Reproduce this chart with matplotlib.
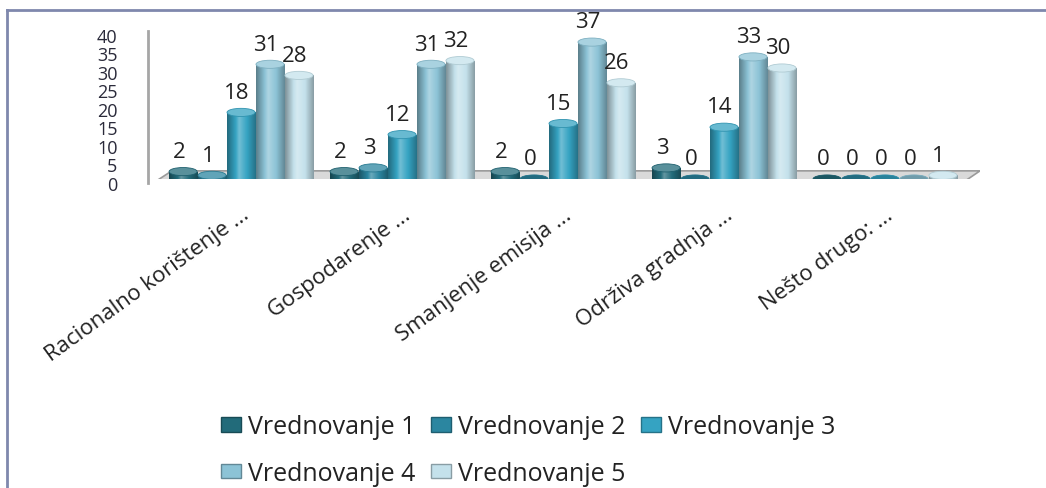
import numpy as np
import matplotlib
matplotlib.use('Agg')
import matplotlib.pyplot as plt
import matplotlib.transforms as mtransforms
from matplotlib.colors import LinearSegmentedColormap, to_rgb
from matplotlib.patches import Ellipse, Polygon, Patch
from matplotlib.lines import Line2D

plt.rcParams['font.family'] = ['Open Sans', 'DejaVu Sans']

# survey data
categories = ['Racionalno korištenje ...', 'Gospodarenje ...', 'Smanjenje emisija ...',
              'Održiva gradnja ...', 'Nešto drugo: ...']
series = ['Vrednovanje 1', 'Vrednovanje 2', 'Vrednovanje 3', 'Vrednovanje 4', 'Vrednovanje 5']
v1 = [2, 2, 2, 3, 0]
v2 = [1, 3, 0, 0, 0]
v3 = [18, 12, 15, 14, 0]
v4 = [31, 31, 37, 33, 0]
v5 = [28, 32, 26, 30, 1]
values = [v1, v2, v3, v4, v5]
colors = ['#226b7a', '#2b86a0', '#35a3c2', '#8cc3d6', '#c4e1eb']
yticks = [0, 5, 10, 15, 20, 25, 30, 35, 40]


def shade(c, f):
    r = np.array(to_rgb(c))
    if f < 0:
        return tuple(r * (1 + f))
    return tuple(r + (1 - r) * f)


fig = plt.figure(figsize=(10.46, 4.89), dpi=100)
ax = fig.add_axes([148 / 1046, 1 - 180 / 489, (980 - 148) / 1046, 148 / 489])

x = np.arange(len(categories))
w = 0.18
cap = 2.2  # ellipse height in data units

# floor of the 3d plot
floor = Polygon([(-0.555, -1.35), (4.47, -1.35), (4.59, 2.2), (-0.43, 2.2)],
                closed=True, facecolor='#d9d9d9', edgecolor='#9a9a9a', lw=1.2, zorder=1)
ax.add_patch(floor)
front = Polygon([(-0.555, -1.35), (4.47, -1.35), (4.45, -2.3), (-0.575, -2.3)],
                closed=True, facecolor='#f2f2f2', edgecolor='#a8a8a8', lw=0.8, zorder=1)
ax.add_patch(front)

for i, (vals, col) in enumerate(zip(values, colors)):
    pos = x + (i - 2) * w
    bars = ax.bar(pos, vals, width=w * 0.97, color=col, zorder=3)
    cmap = LinearSegmentedColormap.from_list(
        'cyl', [(0, shade(col, -0.35)), (0.3, col), (0.42, shade(col, 0.3)),
                (0.7, col), (1, shade(col, -0.3))])
    grad = np.linspace(0, 1, 64).reshape(1, -1)
    for b, v in zip(bars, vals):
        bx = b.get_x()
        bw = b.get_width()
        cx = bx + bw / 2
        # rounded bottom
        ax.add_patch(Ellipse((cx, 0), bw, cap, facecolor=shade(col, -0.3), zorder=2))
        if v > 0:
            im = ax.imshow(grad, extent=[bx, bx + bw, 0, v], aspect='auto',
                           cmap=cmap, zorder=4, interpolation='bilinear')
            im.set_clip_path(b)
        # top cap
        ax.add_patch(Ellipse((cx, v), bw, cap, facecolor=shade(col, 0.25) if v > 0 else shade(col, -0.2),
                             edgecolor=shade(col, -0.1), lw=0.6, zorder=5))
        ax.annotate(str(v), (cx, v), xytext=(-3, 7), textcoords='offset points',
                    ha='center', va='bottom', fontsize=16, color='#222222', zorder=6)

ax.set_xlim(-0.578, 4.59)
ax.set_ylim(0, 40)
ax.set_yticks(yticks)
ax.set_yticklabels([str(t) for t in yticks], fontsize=13, color='#2a2a3a')
ax.tick_params(axis='y', length=0, pad=22)
for lab in ax.get_yticklabels():
    lab.set_transform(lab.get_transform() + mtransforms.ScaledTranslation(0, -4 / 100, fig.dpi_scale_trans))

ax.set_xticks(x)
ax.set_xticklabels(categories, rotation=36, ha='right', va='center', rotation_mode='anchor',
                   fontsize=16, color='#222222')
ax.tick_params(axis='x', length=0, pad=24)
for lab in ax.get_xticklabels():
    lab.set_transform(lab.get_transform() + mtransforms.ScaledTranslation(6 / 100, 0, fig.dpi_scale_trans))

for s in ['top', 'right', 'bottom']:
    ax.spines[s].set_visible(False)
ax.spines['left'].set_color('#a6a6a6')
ax.spines['left'].set_linewidth(2)
ax.spines['left'].set_bounds(-1.0, 40)

# legend laid out row by row
handles = [Patch(facecolor=c, edgecolor=shade(c, -0.3), label=s) for s, c in zip(series, colors)]
order = [0, 3, 1, 4, 2]
fig.legend([handles[k] for k in order], [series[k] for k in order], ncol=3,
           loc='center', bbox_to_anchor=(528 / 1046, 1 - 451 / 489), frameon=False,
           fontsize=18, handlelength=0.8, handleheight=0.5, handletextpad=0.3,
           columnspacing=0.6, labelspacing=0.85, labelcolor='#222222')

# outer frame
fig.add_artist(Line2D([7 / 1046, 1], [1 - 11 / 489, 1 - 11 / 489], color='#7f88ad', lw=2))
fig.add_artist(Line2D([7 / 1046, 7 / 1046], [0, 1 - 11 / 489], color='#7f88ad', lw=2))

fig.savefig('out.png', dpi=100)
